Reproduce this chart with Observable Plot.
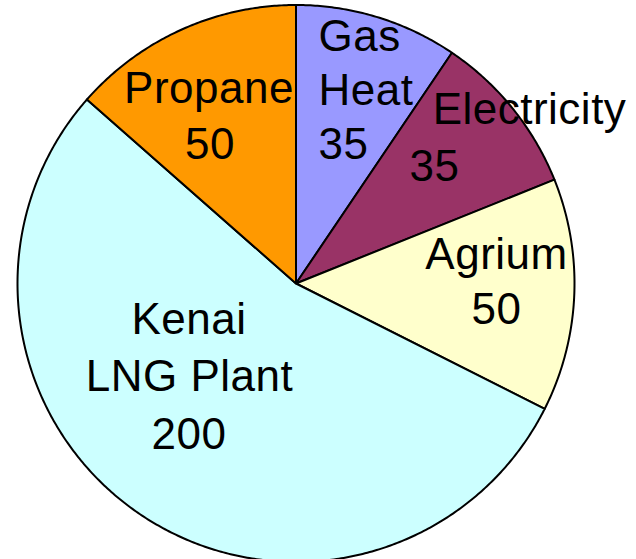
<!DOCTYPE html>
<html>
<head>
<meta charset="utf-8">
<script src="https://cdn.jsdelivr.net/npm/d3@7"></script>
<script src="https://cdn.jsdelivr.net/npm/@observablehq/plot@0.6"></script>
<style>
  html, body { margin: 0; padding: 0; background: #fff; }
  #chart svg { display: block; }
  #chart svg text { letter-spacing: 0.5px; }
</style>
</head>
<body>
<div id="chart"></div>
<script>
// ---- data ----
const categories = ["Gas Heat", "Electricity", "Agrium", "Kenai LNG Plant", "Propane"];
const values = [35, 35, 50, 200, 50];
const labelText = ["Gas\nHeat", "Electricity", "Agrium", "Kenai\nLNG Plant", "Propane"];
const colors = ["#9999ff", "#993366", "#ffffcc", "#ccffff", "#ff9900"];

// ---- layout ----
const W = 636, H = 559;
const cx = 295.5, cy = 283, R = 278.5;
const fontSize = 44;
// label placement (pixel-space annotation layout: first baseline, anchor x, line step, per-line x shift)
const labelLayout = [
  {x: 318, y: 50, anchor: "start", step: 54, shift: [0, 0, 0]},
  {x: 529, y: 123, anchor: "middle", step: 57, shift: [0, -95]},
  {x: 496, y: 268, anchor: "middle", step: 55, shift: [0, 0]},
  {x: 188.5, y: 333, anchor: "middle", step: 57.5, shift: [0, 0.5, 0]},
  {x: 208.5, y: 102, anchor: "middle", step: 56, shift: [0, 1]}
];

// ---- slices: clockwise from 12 o'clock ----
const total = d3.sum(values);
const pts = [];
let acc = 0;
categories.forEach((name, i) => {
  const a0 = acc / total * 2 * Math.PI;
  acc += values[i];
  const a1 = acc / total * 2 * Math.PI;
  const n = Math.max(2, Math.ceil((a1 - a0) / (Math.PI / 360)));
  pts.push({name, x: 0, y: 0});
  for (let k = 0; k <= n; k++) {
    const t = a0 + (a1 - a0) * k / n;
    pts.push({name, x: Math.sin(t), y: Math.cos(t)});
  }
  pts.push({name, x: 0, y: 0});
});

// ---- label lines ----
const lines = [];
categories.forEach((name, i) => {
  const L = labelLayout[i];
  const parts = labelText[i].split("\n").concat([String(values[i])]);
  parts.forEach((txt, j) => {
    const px = L.x + (L.shift[j] || 0);
    const py = L.y + j * L.step;
    lines.push({txt, anchor: L.anchor, x: (px - cx) / R, y: (cy - py) / R});
  });
});

const chart = Plot.plot({
  width: W,
  height: H,
  margin: 0,
  x: {domain: [-cx / R, (W - cx) / R], range: [0, W], axis: null},
  y: {domain: [-(H - cy) / R, cy / R], range: [H, 0], axis: null},
  color: {domain: categories, range: colors},
  style: {fontFamily: "'Liberation Sans', Arial, sans-serif", background: "#fff"},
  marks: [
    Plot.line(pts, {x: "x", y: "y", z: "name", fill: "name", stroke: "black", strokeWidth: 2, strokeLinejoin: "round"}),
    Plot.text(lines.filter(d => d.anchor === "start"), {x: "x", y: "y", text: "txt", textAnchor: "start", lineAnchor: "bottom", fontSize, fill: "black"}),
    Plot.text(lines.filter(d => d.anchor === "middle"), {x: "x", y: "y", text: "txt", textAnchor: "middle", lineAnchor: "bottom", fontSize, fill: "black"})
  ]
});
document.getElementById("chart").appendChild(chart);
</script>
</body>
</html>
